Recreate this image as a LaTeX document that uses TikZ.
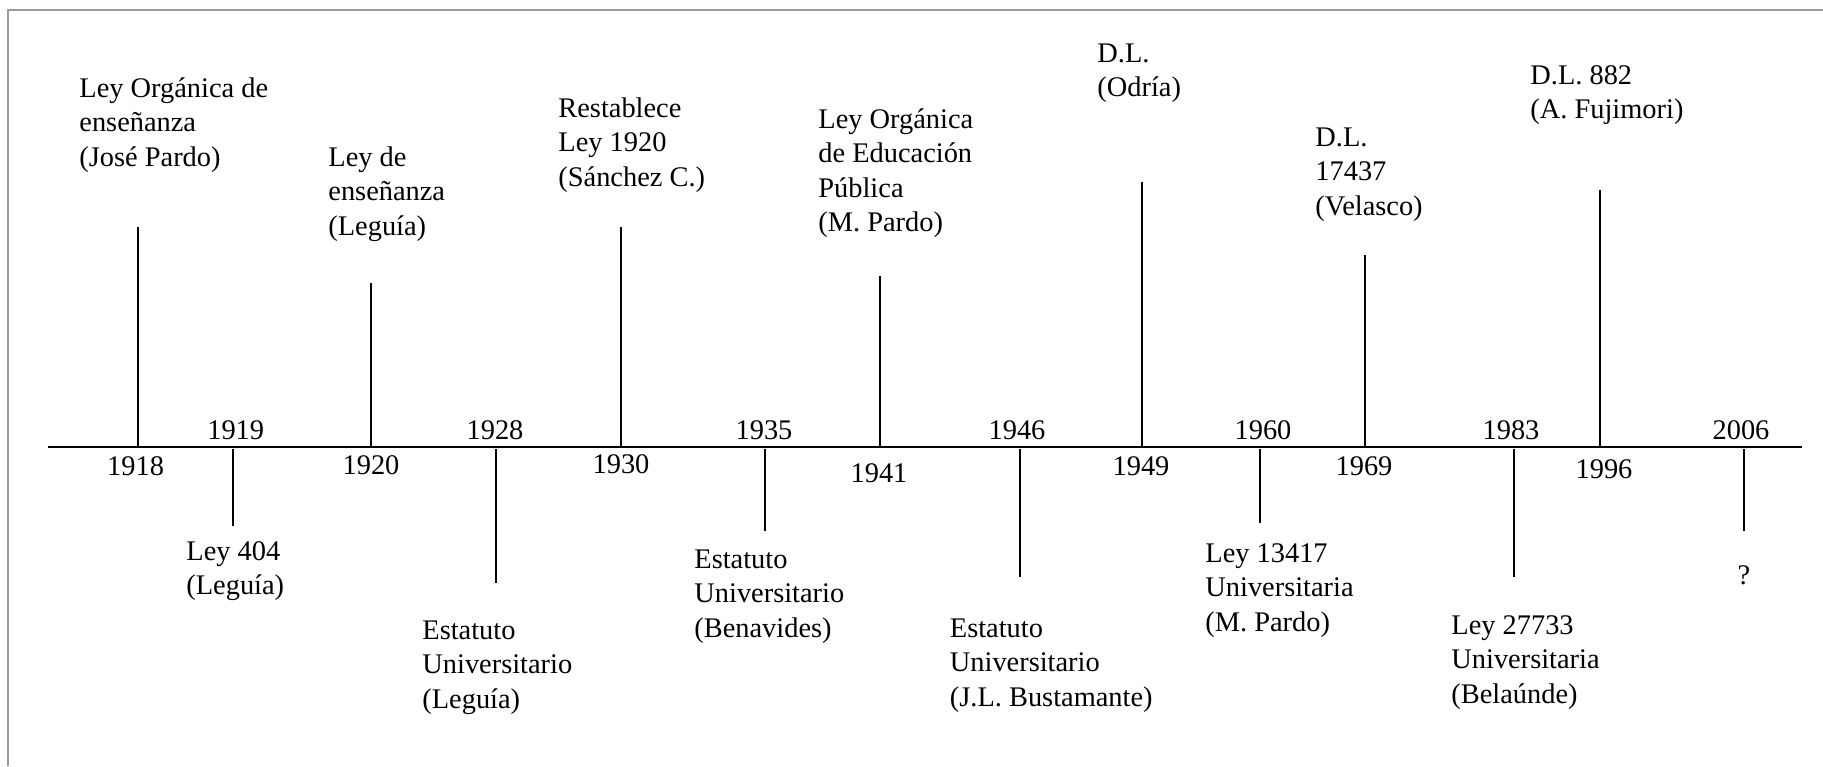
\documentclass[tikz,border=0pt]{standalone}
\usepackage{fontspec}
\setmainfont{Liberation Serif}
\begin{document}
\begin{tikzpicture}[x=0.5pt,y=-0.5pt,
  txt/.style={font=\fontsize{14.2}{17.25}\selectfont, inner sep=0pt},
  lbl/.style={txt, align=left, anchor=north west},
  yr/.style={txt, anchor=base},
  tickline/.style={line width=1pt, black},
  axisline/.style={line width=1.1pt, black},
  frameline/.style={line width=1.4pt, color=black!40}]
\useasboundingbox (0,0) rectangle (1823,766);

% outer frame (top and left edges)
\coordinate (fl) at (8,766);
\coordinate (fc) at (8,10);
\coordinate (fr) at (1823,10);
\draw[frameline] (fl) -- (fc) -- (fr);

% time axis
\coordinate (ax0) at (47.5,447);
\coordinate (ax1) at (1802,447);
\draw[axisline] (ax0) -- (ax1);

% ticks above the axis
\foreach \n/\x/\top in {1918/137.6/227, 1920/371/283, 1930/620.6/227, 1941/879.5/276,
                        1949/1141.7/182, 1969/1365/255, 1996/1600/190} {
  \coordinate (a\n) at (\x,447);
  \coordinate (u\n) at (\x,\top);
  \draw[tickline] (a\n) -- (u\n);
}
% ticks below the axis
\foreach \n/\x/\bot in {1919/232.5/526, 1928/495.5/583, 1935/764.5/531, 1946/1020/577,
                        1960/1259.6/523, 1983/1513.5/577, 2006/1744/531} {
  \coordinate (a\n) at (\x,449);
  \coordinate (d\n) at (\x,\bot);
  \draw[tickline] (a\n) -- (d\n);
}

% years under the axis
\node[yr] (y1918) at (135.6,475) {1918};
\node[yr] (y1920) at (371,474) {1920};
\node[yr] (y1930) at (621,473) {1930};
\node[yr] (y1941) at (879,482) {1941};
\node[yr] (y1949) at (1141,475) {1949};
\node[yr] (y1969) at (1364,475) {1969};
\node[yr] (y1996) at (1604,478) {1996};
% years over the axis
\node[yr] (y1919) at (235.7,439) {1919};
\node[yr] (y1928) at (495,439) {1928};
\node[yr] (y1935) at (764,439) {1935};
\node[yr] (y1946) at (1017,439) {1946};
\node[yr] (y1960) at (1263,439) {1960};
\node[yr] (y1983) at (1511,439) {1983};
\node[yr] (y2006) at (1741,439) {2006};

% laws above the axis
\node[lbl] (l1918) at (79,72.8)   {\strut Ley Orgánica de\\enseñanza\\(José Pardo)};
\node[lbl] (l1920) at (328,141.8) {\strut Ley de\\enseñanza\\(Leguía)};
\node[lbl] (l1930) at (558,92.8)  {\strut Restablece\\Ley 1920\\(Sánchez C.)};
\node[lbl] (l1941) at (818,103.8) {\strut Ley Orgánica\\de Educación\\Pública\\(M. Pardo)};
\node[lbl] (l1949) at (1097,37.8) {\strut D.L.\\(Odría)};
\node[lbl] (l1969) at (1315,121.8) {\strut D.L.\\17437\\(Velasco)};
\node[lbl] (l1996) at (1530,59.8) {\strut D.L. 882\\(A. Fujimori)};

% laws below the axis
\node[lbl] (l1919) at (186,535.8)  {\strut Ley 404\\(Leguía)};
\node[lbl] (l1928) at (422,614.8)  {\strut Estatuto\\Universitario\\(Leguía)};
\node[lbl] (l1935) at (694,543.8)  {\strut Estatuto\\Universitario\\(Benavides)};
\node[lbl] (l1946) at (949.5,612.8) {\strut Estatuto\\Universitario\\(J.L. Bustamante)};
\node[lbl] (l1960) at (1205,537.8) {\strut Ley 13417\\Universitaria\\(M. Pardo)};
\node[lbl] (l1983) at (1451,609.8) {\strut Ley 27733\\Universitaria\\(Belaúnde)};
\node[yr]  (l2006) at (1744,584)   {?};
\end{tikzpicture}
\end{document}
